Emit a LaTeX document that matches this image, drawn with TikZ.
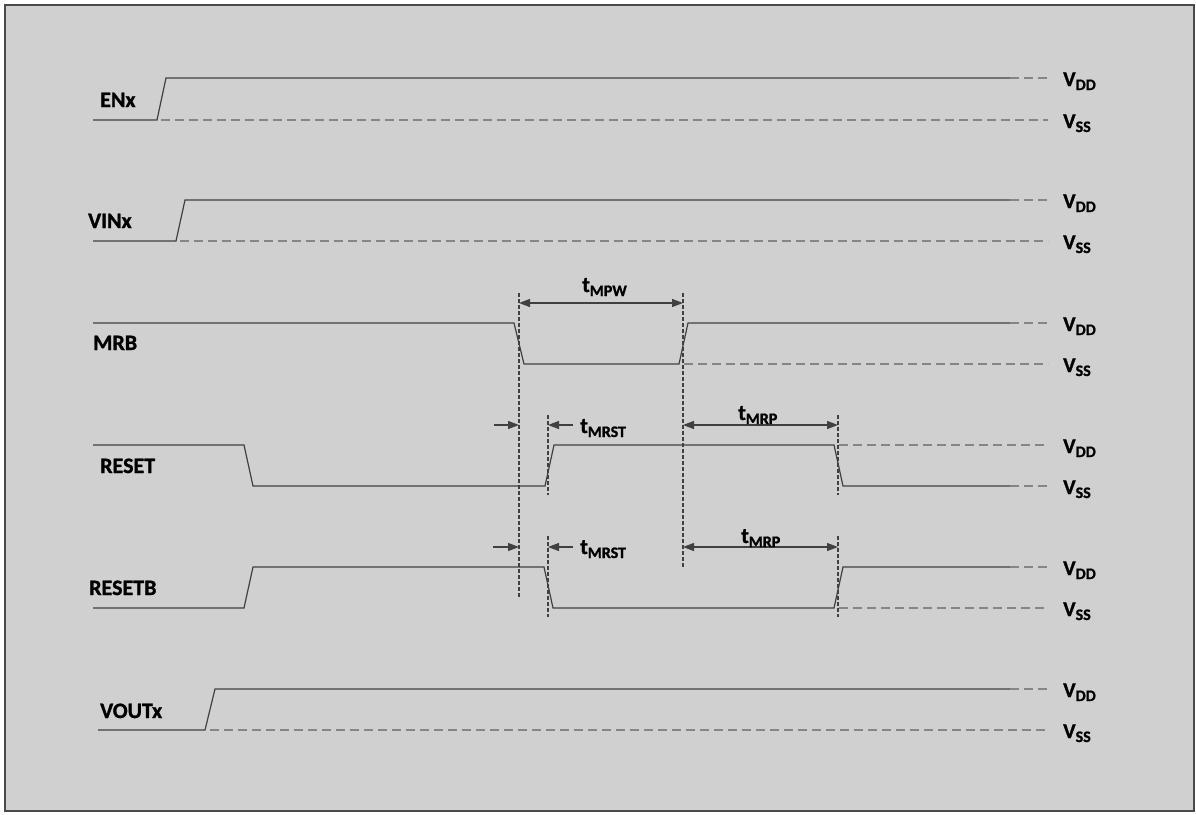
\documentclass[tikz,border=0pt]{standalone}
\usepackage{fontspec}
\setmainfont{Carlito}[BoldFeatures={FakeBold=1.2}]
\usetikzlibrary{arrows.meta}

\definecolor{panel}{HTML}{D0D0D0}
\definecolor{frameline}{HTML}{4A4A4A}
\definecolor{waveline}{HTML}{404040}
\definecolor{railgrey}{HTML}{858585}

\newcommand\tsub[2]{#1\raisebox{-4pt}{\fontsize{16}{16}\selectfont #2}}

\begin{document}
\begin{tikzpicture}[x=1pt, y=-1pt,
        wave/.style={draw=waveline, line width=1.2pt},
        rail/.style={draw=railgrey, line width=1.7pt, dash pattern=on 9pt off 5pt},
        guide/.style={draw=waveline, line width=1.4pt, dash pattern=on 4pt off 2pt},
        dimboth/.style={draw=waveline, line width=1.2pt, {Triangle[length=11pt,width=8pt]}-{Triangle[length=11pt,width=8pt]}},
        dimone/.style={draw=waveline, line width=1.2pt, -{Triangle[length=11pt,width=8pt]}},
        sig/.style={inner sep=0, anchor=base west, font=\fontsize{22}{26}\selectfont\bfseries},
        lvl/.style={inner sep=0, anchor=base west, font=\fontsize{21}{25}\selectfont\bfseries}]
        \useasboundingbox ( 0, 0 ) rectangle ( 1196, 814 );
        \fill[white] ( 0, 0 ) rectangle ( 1196, 814 );
        \draw[draw=frameline, fill=panel, line width=2.5pt] ( 5, 5 ) rectangle ( 1194, 811 );

        % ENx
        \node[sig] (enx) at ( 100, 107 ) {ENx};
        \draw[wave] ( 93, 120 ) -- ( 157, 120 ) -- ( 166, 78 ) -- ( 1010, 78 );
        \draw[rail] ( 1010, 78 ) -- ( 1048, 78 );
        \draw[rail] ( 161, 120 ) -- ( 1048, 120 );
        \node[lvl] (vdd1) at ( 1063, 86 ) {\tsub{V}{DD}};
        \node[lvl] (vss1) at ( 1063, 128 ) {\tsub{V}{SS}};

        % VINx
        \node[sig] (vinx) at ( 88, 228 ) {VINx};
        \draw[wave] ( 93, 241 ) -- ( 176, 241 ) -- ( 185, 200 ) -- ( 1010, 200 );
        \draw[rail] ( 1010, 200 ) -- ( 1048, 200 );
        \draw[rail] ( 180, 241 ) -- ( 1048, 241 );
        \node[lvl] (vdd2) at ( 1063, 208 ) {\tsub{V}{DD}};
        \node[lvl] (vss2) at ( 1063, 249 ) {\tsub{V}{SS}};

        % MRB
        \node[sig] (mrb) at ( 93, 350 ) {MRB};
        \draw[wave] ( 93, 323 ) -- ( 514, 323 ) -- ( 524, 364 ) -- ( 679, 364 ) -- ( 688, 323 ) -- ( 1010, 323 );
        \draw[rail] ( 1010, 323 ) -- ( 1048, 323 );
        \draw[rail] ( 684, 364 ) -- ( 1048, 364 );
        \node[lvl] (vdd3) at ( 1063, 331 ) {\tsub{V}{DD}};
        \node[lvl] (vss3) at ( 1063, 372 ) {\tsub{V}{SS}};

        % RESET
        \node[sig] (reset) at ( 100, 473 ) {RESET};
        \draw[wave] ( 93, 445 ) -- ( 244, 445 ) -- ( 253, 486 ) -- ( 545, 486 ) -- ( 554, 445 ) -- ( 834, 445 ) -- ( 843, 486 ) -- ( 1010, 486 );
        \draw[rail] ( 1010, 486 ) -- ( 1048, 486 );
        \draw[rail] ( 839, 445 ) -- ( 1048, 445 );
        \node[lvl] (vdd4) at ( 1063, 453 ) {\tsub{V}{DD}};
        \node[lvl] (vss4) at ( 1063, 494 ) {\tsub{V}{SS}};

        % RESETB
        \node[sig] (resetb) at ( 89, 595 ) {RESETB};
        \draw[wave] ( 93, 608 ) -- ( 244, 608 ) -- ( 253, 567 ) -- ( 544, 567 ) -- ( 553, 608 ) -- ( 834, 608 ) -- ( 843, 567 ) -- ( 1010, 567 );
        \draw[rail] ( 1010, 567 ) -- ( 1048, 567 );
        \draw[rail] ( 839, 608 ) -- ( 1048, 608 );
        \node[lvl] (vdd5) at ( 1063, 575 ) {\tsub{V}{DD}};
        \node[lvl] (vss5) at ( 1063, 616 ) {\tsub{V}{SS}};

        % VOUTx
        \node[sig] (voutx) at ( 100, 718 ) {VOUTx};
        \draw[wave] ( 98, 730 ) -- ( 205, 730 ) -- ( 215, 689 ) -- ( 1010, 689 );
        \draw[rail] ( 1010, 689 ) -- ( 1048, 689 );
        \draw[rail] ( 210, 730 ) -- ( 1048, 730 );
        \node[lvl] (vdd6) at ( 1063, 697 ) {\tsub{V}{DD}};
        \node[lvl] (vss6) at ( 1063, 738 ) {\tsub{V}{SS}};

        % guides
        \coordinate (mrfall) at ( 519, 293 );
        \coordinate (mrrise) at ( 683, 293 );
        \draw[guide] (mrfall) -- ( 519, 598 );
        \draw[guide] (mrrise) -- ( 683, 568 );
        \draw[guide] ( 548, 415 ) -- ( 548, 495 );
        \draw[guide] ( 838, 415 ) -- ( 838, 495 );
        \draw[guide] ( 548, 536 ) -- ( 548, 617 );
        \draw[guide] ( 838, 536 ) -- ( 838, 617 );

        % tMPW
        \draw[dimboth] ( 519, 303 ) -- ( 683, 303 );
        \node[sig] (tmpw) at ( 582, 292 ) {\tsub{t}{MPW}};

        % tMRST, tMRP on RESET
        \draw[dimone] ( 494, 425 ) -- ( 519, 425 );
        \draw[dimone] ( 573, 425 ) -- ( 548, 425 );
        \node[sig] (tmrst1) at ( 580, 433 ) {\tsub{t}{MRST}};
        \draw[dimboth] ( 683, 425 ) -- ( 838, 425 );
        \node[sig] (tmrp1) at ( 738, 420 ) {\tsub{t}{MRP}};

        % tMRST, tMRP on RESETB
        \draw[dimone] ( 493, 547 ) -- ( 519, 547 );
        \draw[dimone] ( 573, 547 ) -- ( 548, 547 );
        \node[sig] (tmrst2) at ( 580, 554 ) {\tsub{t}{MRST}};
        \draw[dimboth] ( 683, 547 ) -- ( 838, 547 );
        \node[sig] (tmrp2) at ( 741, 543 ) {\tsub{t}{MRP}};
    \end{tikzpicture}
\end{document}
